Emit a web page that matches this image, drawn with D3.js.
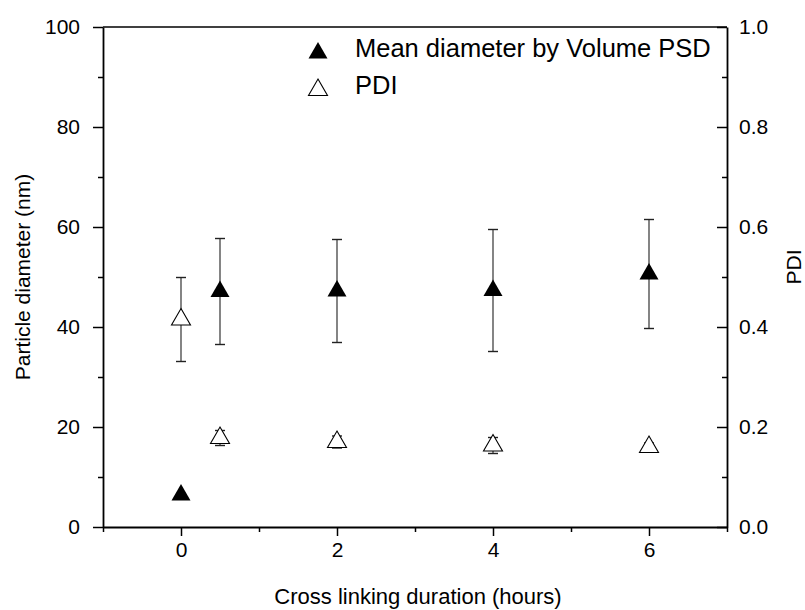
<!DOCTYPE html>
<html>
<head>
<meta charset="utf-8">
<script src="https://cdn.jsdelivr.net/npm/d3@7"></script>
<style>
  html, body { margin: 0; padding: 0; background: #fff; }
  svg { display: block; font-family: Arial, "Liberation Sans", sans-serif; }
</style>
</head>
<body>
<svg id="chart" width="805" height="610"></svg>
<script>
// Cross-linking duration (hours) for each measurement
const durationDiameter = [0, 0.5, 2, 4, 6];
const meanDiameter = [6.4, 47.1, 47.2, 47.3, 50.6];      // nm
const meanDiameterErr = [0, 10.6, 10.3, 12.2, 10.9];     // nm

const durationPDI = [0, 0.5, 2, 4, 6];
const pdi = [0.415, 0.178, 0.170, 0.163, 0.160];
const pdiErr = [0.084, 0.015, 0.012, 0.016, 0.008];

const xTicks = [0, 2, 4, 6];
const xMinorTicks = [-1, 1, 3, 5, 7];
const yLeftTicks = [0, 20, 40, 60, 80, 100];
const yLeftMinor = [10, 30, 50, 70, 90];
const yRightTicks = [0, 0.2, 0.4, 0.6, 0.8, 1.0];
const yRightMinor = [0.1, 0.3, 0.5, 0.7, 0.9];

const legendLabels = ["Mean diameter by Volume PSD", "PDI"];

const svg = d3.select("#chart");
const m = { left: 103, right: 727, top: 27, bottom: 527 };

const x = d3.scaleLinear().domain([-1, 7]).range([m.left, m.right]);
const yL = d3.scaleLinear().domain([0, 100]).range([m.bottom, m.top]);
const yR = d3.scaleLinear().domain([0, 1]).range([m.bottom, m.top]);

const tickFont = "21px";

// frame: top line
svg.append("line").attr("x1", m.left).attr("x2", m.right)
  .attr("y1", m.top).attr("y2", m.top)
  .attr("stroke", "#000").attr("stroke-width", 1.5);

function styleAxis(g) {
  g.selectAll("path.domain").attr("stroke", "#000").attr("stroke-width", 1.8);
  g.selectAll(".tick line").attr("stroke", "#000").attr("stroke-width", 1.5);
  g.selectAll(".tick text").attr("fill", "#000").style("font-size", tickFont)
    .style("font-family", "Arial, 'Liberation Sans', sans-serif");
}

// bottom axis
const gx = svg.append("g").attr("transform", `translate(0,${m.bottom})`)
  .call(d3.axisBottom(x).tickValues(xTicks).tickFormat(d3.format("d"))
    .tickSizeInner(9).tickSizeOuter(0).tickPadding(6));
styleAxis(gx);
svg.append("g").attr("transform", `translate(0,${m.bottom})`)
  .call(d3.axisBottom(x).tickValues(xMinorTicks).tickFormat("").tickSizeInner(5).tickSizeOuter(0))
  .call(g => { g.select(".domain").remove(); g.selectAll("line").attr("stroke", "#000").attr("stroke-width", 1.5); });

// left axis
const gyl = svg.append("g").attr("transform", `translate(${m.left},0)`)
  .call(d3.axisLeft(yL).tickValues(yLeftTicks).tickFormat(d3.format("d"))
    .tickSizeInner(10).tickSizeOuter(0).tickPadding(13));
styleAxis(gyl);
svg.append("g").attr("transform", `translate(${m.left},0)`)
  .call(d3.axisLeft(yL).tickValues(yLeftMinor).tickFormat("").tickSizeInner(5).tickSizeOuter(0))
  .call(g => { g.select(".domain").remove(); g.selectAll("line").attr("stroke", "#000").attr("stroke-width", 1.5); });

// right axis, ticks pointing into the plot
const gyr = svg.append("g").attr("transform", `translate(${m.right},0)`)
  .call(d3.axisRight(yR).tickValues(yRightTicks).tickFormat(d3.format(".1f"))
    .tickSizeInner(-10).tickSizeOuter(0).tickPadding(12));
styleAxis(gyr);
svg.append("g").attr("transform", `translate(${m.right},0)`)
  .call(d3.axisRight(yR).tickValues(yRightMinor).tickFormat("").tickSizeInner(-5).tickSizeOuter(0))
  .call(g => { g.select(".domain").remove(); g.selectAll("line").attr("stroke", "#000").attr("stroke-width", 1.5); });

// axis titles
svg.append("text")
  .attr("transform", `translate(${(m.left + m.right) / 2 + 3},${604})`)
  .attr("text-anchor", "middle").style("font-size", "22px")
  .text("Cross linking duration (hours)");
svg.append("text")
  .attr("transform", `translate(30,${(m.top + m.bottom) / 2}) rotate(-90)`)
  .attr("text-anchor", "middle").style("font-size", "21px")
  .text("Particle diameter (nm)");
svg.append("text")
  .attr("transform", `translate(801,${(m.top + m.bottom) / 2 - 10}) rotate(-90)`)
  .attr("text-anchor", "middle").style("font-size", "21px")
  .text("PDI");

const tri = d3.symbol().type(d3.symbolTriangle).size(156);
const capW = 5;

function errorBars(xs, ys, es, yScale) {
  const g = svg.append("g");
  xs.forEach((d, i) => {
    if (!es[i]) return;
    const cx = x(d), y1 = yScale(ys[i] + es[i]), y2 = yScale(ys[i] - es[i]);
    g.append("line").attr("x1", cx).attr("x2", cx).attr("y1", y1).attr("y2", y2)
      .attr("stroke", "#666").attr("stroke-width", 1.6);
    [y1, y2].forEach(yy => g.append("line")
      .attr("x1", cx - capW).attr("x2", cx + capW).attr("y1", yy).attr("y2", yy)
      .attr("stroke", "#222").attr("stroke-width", 1.4));
  });
}

errorBars(durationDiameter, meanDiameter, meanDiameterErr, yL);
errorBars(durationPDI, pdi, pdiErr, yR);

// PDI: open triangles on the right axis
svg.append("g").selectAll("path").data(durationPDI).join("path")
  .attr("d", tri)
  .attr("transform", (d, i) => `translate(${x(d)},${yR(pdi[i])})`)
  .attr("fill", "#fff").attr("stroke", "#000").attr("stroke-width", 1.1);

// mean diameter: filled triangles on the left axis
svg.append("g").selectAll("path").data(durationDiameter).join("path")
  .attr("d", tri)
  .attr("transform", (d, i) => `translate(${x(d)},${yL(meanDiameter[i])})`)
  .attr("fill", "#000");

// legend
const lg = svg.append("g");
const legendY = [53, 90];
legendLabels.forEach((lab, i) => {
  lg.append("path").attr("d", tri)
    .attr("transform", `translate(318,${legendY[i]})`)
    .attr("fill", i === 0 ? "#000" : "#fff")
    .attr("stroke", "#000").attr("stroke-width", i === 0 ? 0 : 1.1);
  lg.append("text").attr("x", 355).attr("y", legendY[i] - 3)
    .attr("dominant-baseline", "middle").style("font-size", "25.5px").text(lab);
});
</script>
</body>
</html>
